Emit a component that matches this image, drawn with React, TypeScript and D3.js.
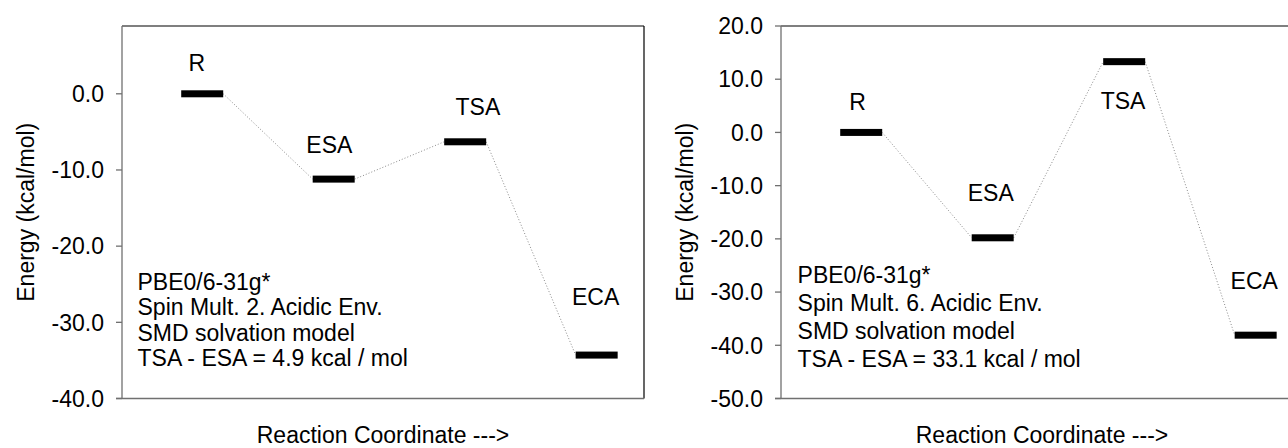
import React from "react";
import * as d3 from "d3";

const categories = ["R", "ESA", "TSA", "ECA"];
const leftEnergies = [0, -11.2, -6.3, -34.3];
const rightEnergies = [0, -19.8, 13.3, -38.1];
const leftTicks = [0, -10, -20, -30, -40];
const rightTicks = [20, 10, 0, -10, -20, -30, -40, -50];
const leftNotes = [
  "PBE0/6-31g*",
  "Spin Mult. 2. Acidic Env.",
  "SMD solvation model",
  "TSA - ESA = 4.9 kcal / mol",
];
const rightNotes = [
  "PBE0/6-31g*",
  "Spin Mult. 6. Acidic Env.",
  "SMD solvation model",
  "TSA - ESA = 33.1 kcal / mol",
];
// label anchor positions in data units (energy, category offset)
const leftLabelEnergy = [4.1, -6.7, -1.7, -26.7];
const rightLabelEnergy = [5.8, -11.4, 6.0, -27.9];
const leftLabelShift = [-0.041, -0.033, 0.097, -0.008];
const rightLabelShift = [-0.027, -0.015, -0.009, -0.011];

const FONT = "'Liberation Sans', Arial, sans-serif";
const FS = 23;

type PanelProps = {
  axisX: number;
  yDomain: [number, number];
  energies: number[];
  ticks: number[];
  notes: string[];
  labelEnergy: number[];
  labelShift: number[];
  noteX: number;
  noteY: number;
  noteStep: number;
};

function Panel(p: PanelProps) {
  const top = 26;
  const bottom = 398.5;
  const width = 522;
  const x = d3.scaleLinear().domain([0.39, 4.36]).range([p.axisX, p.axisX + width]);
  const y = d3.scaleLinear().domain(p.yDomain).range([bottom, top]);
  const barHalf = 21;
  const barH = 7;
  const fmt = (v: number) => d3.format(".1f")(v).replace("\u2212", "-");
  const pts = p.energies.map((e, i) => ({ cx: x(i + 1), cy: y(e) }));
  const segs = pts.slice(0, -1).map((a, i) => {
    const b = pts[i + 1];
    return d3.line()([
      [a.cx + barHalf, a.cy],
      [b.cx - barHalf, b.cy],
    ]);
  });
  const right = p.axisX + width;
  return (
    <g fontFamily={FONT} fill="#000">
      <line x1={p.axisX} x2={right} y1={top} y2={top} stroke="#000" strokeWidth={1.2} />
      <line x1={right} x2={right} y1={top} y2={bottom} stroke="#000" strokeWidth={1.2} />
      <line x1={p.axisX} x2={p.axisX} y1={top} y2={bottom} stroke="#707070" strokeWidth={1.3} />
      <line x1={p.axisX - 6} x2={right} y1={bottom} y2={bottom} stroke="#707070" strokeWidth={1.3} />
      {p.ticks.map((t) => (
        <g key={t}>
          <line x1={p.axisX - 6} x2={p.axisX} y1={y(t)} y2={y(t)} stroke="#707070" strokeWidth={1.3} />
          <text x={p.axisX - 18} y={y(t)} dy="0.36em" textAnchor="end" fontSize={FS}>
            {fmt(t)}
          </text>
        </g>
      ))}
      {segs.map((d, i) => (
        <path key={i} d={d || ""} stroke="#8a8a8a" strokeWidth={1} strokeDasharray="1,2" fill="none" />
      ))}
      {pts.map((pt, i) => (
        <rect key={i} x={pt.cx - barHalf} y={pt.cy - barH / 2} width={barHalf * 2} height={barH} fill="#000" />
      ))}
      {categories.map((c, i) => (
        <text
          key={c}
          x={x(i + 1 + p.labelShift[i])}
          y={y(p.labelEnergy[i])}
          dy="0.36em"
          textAnchor="middle"
          fontSize={FS}
        >
          {c}
        </text>
      ))}
      {p.notes.map((n, i) => (
        <text key={i} x={x(p.noteX)} y={y(p.noteY) + i * p.noteStep} fontSize={FS}>
          {n}
        </text>
      ))}
      <text
        transform={`translate(${p.axisX - 88},${(top + bottom) / 2}) rotate(-90)`}
        textAnchor="middle"
        fontSize={FS}
      >
        Energy (kcal/mol)
      </text>
      <text x={(p.axisX + right) / 2} y={443} textAnchor="middle" fontSize={FS}>
        {"Reaction Coordinate --->"}
      </text>
    </g>
  );
}

export default function App() {
  return (
    <svg
      width={1288}
      height={448}
      style={{ position: "fixed", left: 0, top: 0, background: "#fff" }}
    >
      <rect width={1288} height={448} fill="#fff" />
      <Panel
        axisX={122}
        yDomain={[-40, 8.9]}
        energies={leftEnergies}
        ticks={leftTicks}
        notes={leftNotes}
        labelEnergy={leftLabelEnergy}
        labelShift={leftLabelShift}
        noteX={0.508}
        noteY={-25.75}
        noteStep={25.5}
      />
      <Panel
        axisX={781}
        yDomain={[-50, 20]}
        energies={rightEnergies}
        ticks={rightTicks}
        notes={rightNotes}
        labelEnergy={rightLabelEnergy}
        labelShift={rightLabelShift}
        noteX={0.516}
        noteY={-28.3}
        noteStep={28}
      />
    </svg>
  );
}
